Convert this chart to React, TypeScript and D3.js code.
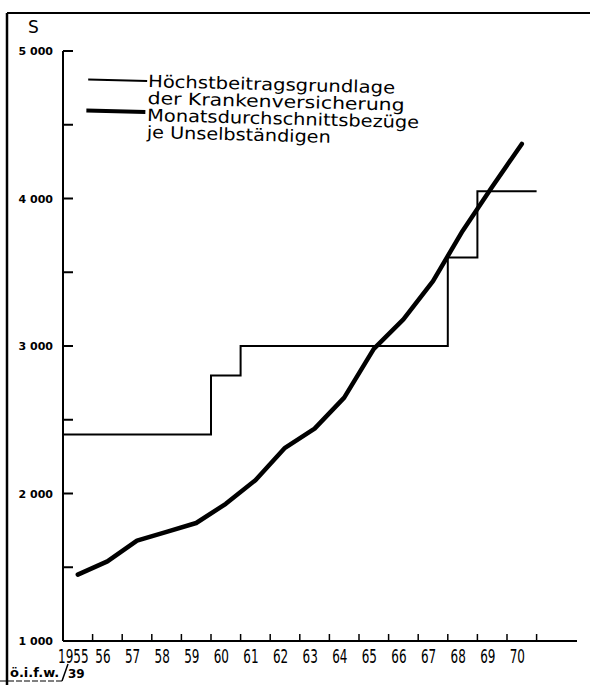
import React from "react";
import * as d3 from "d3";

// Monatsdurchschnittsbezüge je Unselbständigen (S), annual averages
const years = [1955, 1956, 1957, 1958, 1959, 1960, 1961, 1962, 1963, 1964, 1965, 1966, 1967, 1968, 1969, 1970];
const earnings = [1450, 1540, 1680, 1740, 1800, 1930, 2090, 2310, 2440, 2650, 2980, 3180, 3440, 3780, 4080, 4370];

// Höchstbeitragsgrundlage der Krankenversicherung: value valid from the given year on
const ceilingYears = [1955, 1960, 1961, 1968, 1969, 1971];
const ceilingValues = [2400, 2800, 3000, 3600, 4050, 4050];

const yLabelValues = [1000, 2000, 3000, 4000, 5000];
const yLabelTexts = ["1 000", "2 000", "3 000", "4 000", "5 000"];
const yTickValues = [1500, 2000, 2500, 3000, 3500, 4000, 4500, 5000];
const xTickYears = [1956, 1957, 1958, 1959, 1960, 1961, 1962, 1963, 1964, 1965, 1966, 1967, 1968, 1969, 1970, 1971];
const xLabelTexts = ["1955", "56", "57", "58", "59", "60", "61", "62", "63", "64", "65", "66", "67", "68", "69", "70"];

const legendLines = [
  "Höchstbeitragsgrundlage",
  "der Krankenversicherung",
  "Monatsdurchschnittsbezüge",
  "je Unselbständigen",
];
const legendWidths = [247, 257, 272, 184];

const FONT = "'DejaVu Sans', sans-serif";

const App = () => {
  const width = 590;
  const height = 685;

  const x = d3.scaleLinear().domain([1955, 1971]).range([63, 536.6]);
  const y = d3.scaleLinear().domain([1000, 5000]).range([641, 51]);

  const stepLine = d3
    .line<number>()
    .x((d, i) => x(ceilingYears[i]))
    .y((d) => y(d))
    .curve(d3.curveStepAfter);

  const earningsLine = d3
    .line<number>()
    .x((d, i) => x(years[i] + 0.5))
    .y((d) => y(d));

  return (
    <svg
      width={width}
      height={height}
      style={{ position: "absolute", left: 0, top: 0, background: "#fff" }}
    >
      {/* frame */}
      <line x1={7} y1={13} x2={590} y2={13} stroke="#000" strokeWidth={2} />
      <line x1={7} y1={13} x2={7} y2={685} stroke="#000" strokeWidth={2.5} />
      <line x1={0} y1={681} x2={62} y2={681} stroke="#000" strokeWidth={1} strokeDasharray="6 2" />

      <text x={28} y={33} fontFamily={FONT} fontSize={17}>S</text>

      {/* y axis */}
      <line x1={63} y1={y(5000)} x2={63} y2={y(1000)} stroke="#000" strokeWidth={2} />
      {yTickValues.map((v) => (
        <line key={v} x1={63} x2={73} y1={y(v)} y2={y(v)} stroke="#000" strokeWidth={2} />
      ))}
      {yLabelValues.map((v, i) => (
        <text
          key={v}
          x={53}
          y={y(v) + 4}
          textAnchor="end"
          fontFamily={FONT}
          fontWeight="bold"
          fontSize={11}
        >
          {yLabelTexts[i]}
        </text>
      ))}

      {/* x axis */}
      <line x1={63} y1={641} x2={577} y2={641} stroke="#000" strokeWidth={2} />
      {xTickYears.map((yr) => (
        <line key={yr} x1={x(yr)} x2={x(yr)} y1={641} y2={634} stroke="#000" strokeWidth={1.5} />
      ))}
      {xLabelTexts.map((t, i) => (
        <text
          key={t}
          transform={`translate(${x(years[i] + 0.35)},663) scale(0.6,1)`}
          textAnchor="middle"
          fontFamily={FONT}
          fontSize={20}
        >
          {t}
        </text>
      ))}

      {/* series */}
      <path d={stepLine(ceilingValues) || ""} fill="none" stroke="#000" strokeWidth={2} />
      <path
        d={earningsLine(earnings) || ""}
        fill="none"
        stroke="#000"
        strokeWidth={4.5}
        strokeLinecap="round"
        strokeLinejoin="round"
      />

      {/* legend */}
      <g transform="rotate(1.5, 148, 87)">
        <line x1={88} x2={147} y1={81} y2={81} stroke="#000" strokeWidth={2} />
        <line x1={87} x2={146} y1={112} y2={112} stroke="#000" strokeWidth={4} />
        {legendLines.map((t, i) => (
          <text
            key={t}
            x={148}
            y={87 + i * 17}
            fontFamily={FONT}
            fontSize={17}
            textLength={legendWidths[i]}
            lengthAdjust="spacingAndGlyphs"
          >
            {t}
          </text>
        ))}
      </g>

      {/* source */}
      <text x={10} y={677} fontFamily={FONT} fontWeight="bold" fontSize={13}>
        ö.i.f.w.
      </text>
      <line x1={62} y1={681} x2={68} y2={664} stroke="#000" strokeWidth={1.5} />
      <text x={68} y={678} fontFamily={FONT} fontWeight="bold" fontSize={12}>
        39
      </text>
    </svg>
  );
};

export default App;
